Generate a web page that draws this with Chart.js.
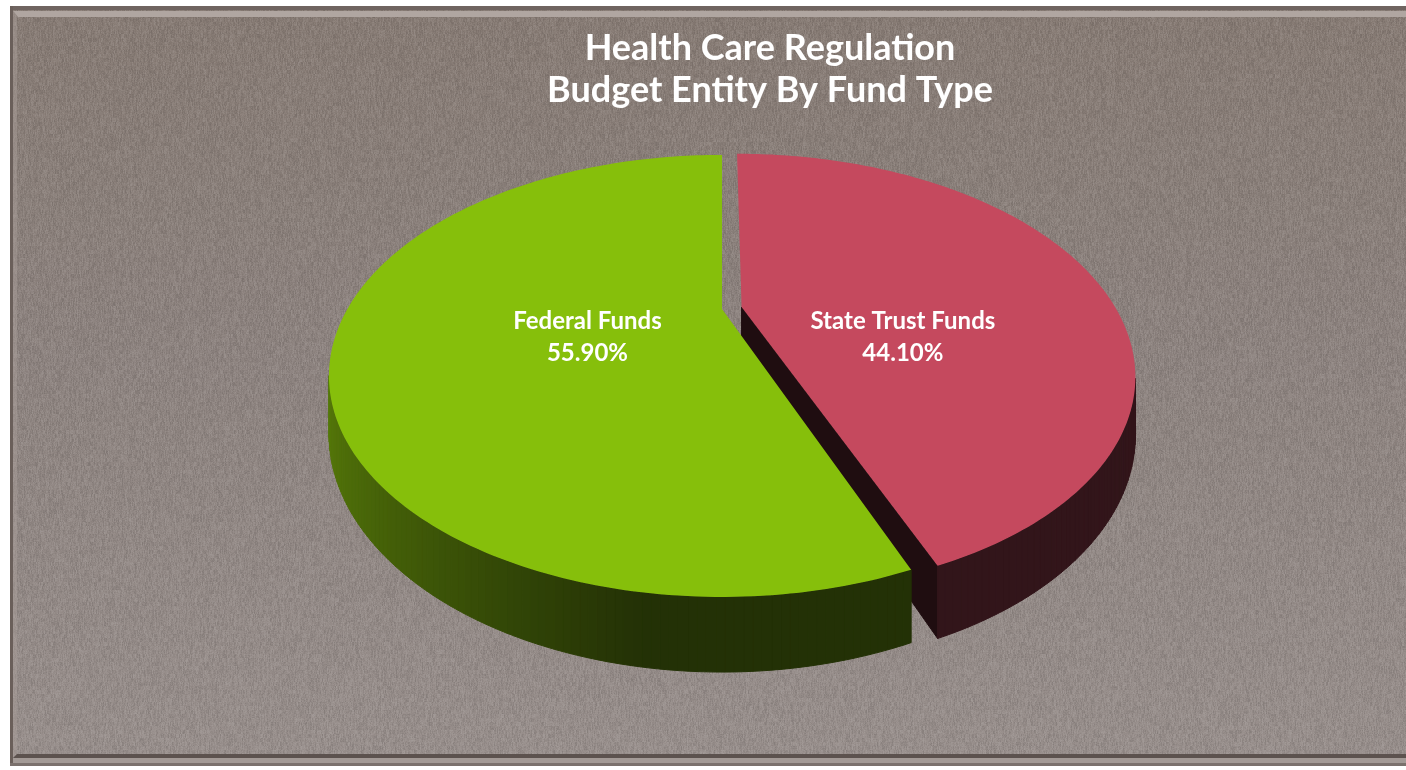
<!DOCTYPE html>
<html>
<head>
<meta charset="utf-8">
<script src="https://cdn.jsdelivr.net/npm/chart.js@4.4.1/dist/chart.umd.min.js"></script>
<style>
  html, body { margin: 0; padding: 0; background: #ffffff; }
  #wrap { position: absolute; left: 0; top: 0; width: 1406px; height: 770px; }
</style>
</head>
<body>
<div id="wrap"><canvas id="chart" width="1406" height="770"></canvas></div>
<script>
// ---- data ----
const titleLines = ['Health Care Regulation', 'Budget Entity By Fund Type'];
const categories = ['State Trust Funds', 'Federal Funds'];
const shares = [44.10, 55.90];            // percent of budget entity
const sliceColors = ['#c5495e', '#86bf0b'];
const explodePx = [8, 0];                 // pulled-out slice

// ---- helpers ----
function hexToRgb(h) {
  const v = parseInt(h.slice(1), 16);
  return [(v >> 16) & 255, (v >> 8) & 255, v & 255];
}
function rgbStr(c, f, lift) {
  const l = lift || 0;
  return 'rgb(' + c.map(v => Math.max(0, Math.min(255, Math.round(v * f + l)))).join(',') + ')';
}
function hash2(a, b) {
  let h = Math.imul(a, 374761393) + Math.imul(b, 668265263);
  h = Math.imul(h ^ (h >>> 13), 1274126177);
  return ((h ^ (h >>> 16)) >>> 0) / 4294967295;
}

// fine fabric-like grain for the panel fill
function makeGrain(w, h) {
  const c = document.createElement('canvas');
  c.width = w; c.height = h;
  const g = c.getContext('2d');
  const img = g.createImageData(w, h);
  for (let y = 0; y < h; y++) {
    for (let x = 0; x < w; x++) {
      const n = 0.55 * hash2(x, Math.floor(y / 4)) + 0.45 * hash2(x + 977, y);
      const d = n - 0.5;
      const i = (y * w + x) * 4;
      const v = d > 0 ? 255 : 0;
      img.data[i] = v; img.data[i + 1] = v; img.data[i + 2] = v;
      img.data[i + 3] = Math.round(Math.abs(d) * 2 * 30);
    }
  }
  g.putImageData(img, 0, 0);
  return c;
}

// ---- panel: textured fill with bevelled frame ----
const panel = {
  id: 'panel',
  beforeDraw(chart) {
    const ctx = chart.ctx, W = chart.width, H = chart.height;
    const x0 = 10, y0 = 6, y1 = 766;
    ctx.save();
    ctx.fillStyle = '#ffffff';
    ctx.fillRect(0, 0, W, H);
    ctx.beginPath();
    ctx.rect(x0, y0, W - x0, y1 - y0);
    ctx.clip();
    const g = ctx.createLinearGradient(0, y0, 0, y1);
    g.addColorStop(0, '#877b74');
    g.addColorStop(0.45, '#8d837f');
    g.addColorStop(1, '#988f8c');
    ctx.fillStyle = g;
    ctx.fillRect(x0, y0, W - x0, y1 - y0);
    if (!panel.grain) panel.grain = makeGrain(W + 20, H + 20);
    ctx.filter = 'blur(0.7px)';
    ctx.drawImage(panel.grain, -10, -10);
    ctx.filter = 'none';
    // top edge
    ctx.fillStyle = '#6f6460';
    ctx.fillRect(x0, y0, W - x0, 4);
    ctx.fillStyle = '#b0a6a1';
    ctx.beginPath();
    ctx.moveTo(x0 + 3, 11); ctx.lineTo(W, 11); ctx.lineTo(W, 17); ctx.lineTo(x0 + 8, 17);
    ctx.closePath(); ctx.fill();
    // left edge
    ctx.fillStyle = '#6a5f5a';
    ctx.fillRect(x0, y0, 3, y1 - y0);
    ctx.fillStyle = 'rgba(170,160,155,0.45)';
    ctx.beginPath();
    ctx.moveTo(x0 + 3, 11); ctx.lineTo(x0 + 7, 16); ctx.lineTo(x0 + 7, y1 - 12); ctx.lineTo(x0 + 3, y1 - 8);
    ctx.closePath(); ctx.fill();
    // bottom edge
    ctx.fillStyle = '#5c524e';
    ctx.beginPath();
    ctx.moveTo(x0 + 3, y1 - 8); ctx.lineTo(x0 + 7, y1 - 12); ctx.lineTo(W, y1 - 12); ctx.lineTo(W, y1 - 8);
    ctx.closePath(); ctx.fill();
    ctx.fillStyle = '#a39a96';
    ctx.fillRect(x0 + 3, y1 - 8, W - x0, 5);
    ctx.fillStyle = '#7b716d';
    ctx.fillRect(x0, y1 - 3, W - x0, 3);
    ctx.restore();
  }
};

// ---- perspective pie: top faces, outer walls and cut faces from the arc elements ----
function projector(chart, o) {
  const arcs = chart.getDatasetMeta(0).data;
  const cx = arcs[0].x + o.shiftX, cy = arcs[0].y, R = arcs[0].outerRadius;
  const P = (xu, yu, drop) => {
    const s = 1 / (1 - o.k * yu);
    return [cx + o.sx * R * xu * s, cy + o.sy * R * yu * s + (drop ? o.depth * R * s : 0)];
  };
  return { arcs, cx, cy, R, P };
}

const pie3d = {
  id: 'pie3d',
  beforeDatasetDraw(chart, args, o) {
    const ctx = chart.ctx;
    const { arcs, R, P } = projector(chart, o);
    const cam = 1 / o.k;
    const step = o.stepDeg * Math.PI / 180;
    const slices = arcs.map(a => {
      const mid = (a.startAngle + a.endAngle) / 2;
      const off = (a.options.offset || 0) / R;
      return {
        s0: a.startAngle, s1: a.endAngle,
        ox: Math.cos(mid) * off, oy: Math.sin(mid) * off,
        color: a.options.backgroundColor,
        rgb: hexToRgb(a.options.backgroundColor)
      };
    });
    const pt = (sl, ang, r, drop) => P(sl.ox + r * Math.cos(ang), sl.oy + r * Math.sin(ang), drop);
    const fillPoly = (pts, col) => {
      ctx.beginPath();
      ctx.moveTo(pts[0][0], pts[0][1]);
      for (let i = 1; i < pts.length; i++) ctx.lineTo(pts[i][0], pts[i][1]);
      ctx.closePath();
      ctx.fillStyle = col; ctx.strokeStyle = col; ctx.lineWidth = 1;
      ctx.fill(); ctx.stroke();
    };

    ctx.save();
    // radial cut faces that turn toward the viewer
    slices.forEach(sl => {
      [[sl.s0, -1], [sl.s1, 1]].forEach(([ang, dir]) => {
        const nx = -dir * Math.sin(ang), ny = dir * Math.cos(ang);
        const vis = nx * (0 - sl.ox) + ny * (cam - sl.oy);
        if (vis <= 0.1) return;
        fillPoly([pt(sl, ang, 0, false), pt(sl, ang, 1, false), pt(sl, ang, 1, true), pt(sl, ang, 0, true)],
                 rgbStr(sl.rgb, o.cutShade, 3));
      });
    });
    // curved outer walls, shaded by the light direction
    slices.forEach(sl => {
      const n = Math.max(2, Math.ceil((sl.s1 - sl.s0) / step));
      for (let j = 0; j < n; j++) {
        const a0 = sl.s0 + (sl.s1 - sl.s0) * j / n;
        const a1 = sl.s0 + (sl.s1 - sl.s0) * (j + 1) / n;
        const am = (a0 + a1) / 2;
        const px = Math.cos(am) + sl.ox, py = Math.sin(am) + sl.oy;
        const facing = Math.cos(am) * (0 - px) + Math.sin(am) * (cam - py);
        if (facing <= 0) continue;
        const lit = Math.max(0, Math.cos(am) * o.light[0] + Math.sin(am) * o.light[1]);
        const f = o.wallDark + o.wallLit * lit;
        fillPoly([pt(sl, a0, 1, false), pt(sl, a1, 1, false), pt(sl, a1, 1, true), pt(sl, a0, 1, true)],
                 rgbStr(sl.rgb, f, 3));
      }
    });
    // flat top faces
    slices.forEach(sl => {
      const n = Math.max(2, Math.ceil((sl.s1 - sl.s0) / step));
      ctx.beginPath();
      const c = pt(sl, sl.s0, 0, false);
      ctx.moveTo(c[0], c[1]);
      for (let j = 0; j <= n; j++) {
        const p = pt(sl, sl.s0 + (sl.s1 - sl.s0) * j / n, 1, false);
        ctx.lineTo(p[0], p[1]);
      }
      ctx.closePath();
      ctx.fillStyle = sl.color;
      ctx.fill();
    });
    ctx.restore();
    return false;
  },
  afterDatasetsDraw(chart, args, o) {
    const ctx = chart.ctx;
    const { arcs, cy, R, P } = projector(chart, o);
    const ds = chart.data.datasets[0];
    ctx.save();
    ctx.fillStyle = o.labelColor;
    ctx.font = o.labelFont;
    ctx.textAlign = 'center';
    ctx.textBaseline = 'middle';
    arcs.forEach((a, i) => {
      const half = (a.endAngle - a.startAngle) / 2;
      const mid = a.startAngle + half;
      const rc = (2 * Math.sin(half) / (3 * half) + (a.options.offset || 0) / R) * o.labelRadius;
      const x = P(Math.cos(mid) * rc, Math.sin(mid) * rc, false)[0];
      const y = cy + o.labelDy;
      ctx.fillText(chart.data.labels[i], x, y - o.labelGap / 2);
      ctx.fillText(ds.data[i].toFixed(2) + '%', x, y + o.labelGap / 2);
    });
    ctx.restore();
  }
};

Chart.defaults.font.family = 'Lato, "Open Sans", "DejaVu Sans", sans-serif';

new Chart(document.getElementById('chart'), {
  type: 'pie',
  data: {
    labels: categories,
    datasets: [{
      data: shares,
      backgroundColor: sliceColors,
      offset: explodePx,
      borderWidth: 0,
      radius: 150
    }]
  },
  options: {
    responsive: false,
    animation: false,
    events: [],
    layout: { padding: { left: 386, right: 252, top: 0, bottom: 271 } },
    plugins: {
      legend: { display: false },
      tooltip: { enabled: false },
      title: {
        display: true,
        text: titleLines,
        color: '#ffffff',
        font: { size: 36, weight: 'bold', lineHeight: 1.15 },
        padding: { top: 28, bottom: 8 }
      },
      pie3d: {
        shiftX: -48,
        k: 0.3032, sx: 2.497, sy: 1.338, depth: 0.349, stepDeg: 1,
        light: [-0.989, -0.148], wallDark: 0.24, wallLit: 0.42, cutShade: 0.14,
        labelRadius: 0.96, labelDy: 28, labelGap: 32,
        labelColor: '#ffffff',
        labelFont: 'bold 24px Lato, "Open Sans", sans-serif'
      }
    }
  },
  plugins: [panel, pie3d]
});
</script>
</body>
</html>
